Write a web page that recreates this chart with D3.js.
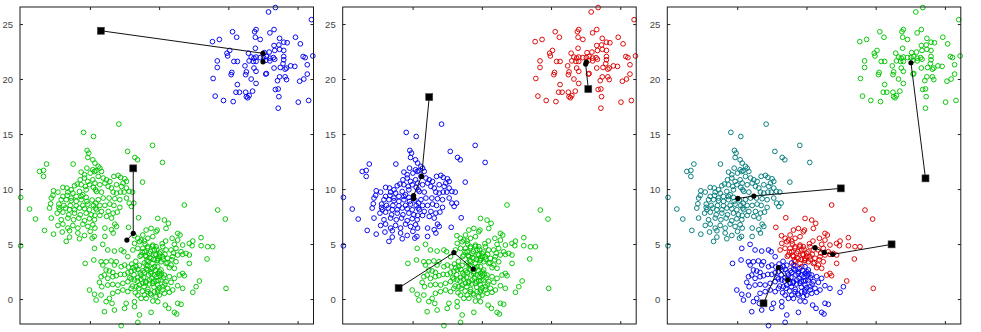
<!DOCTYPE html>
<html>
<head>
<meta charset="utf-8">
<script src="https://cdn.jsdelivr.net/npm/d3@7"></script>
<style>
  html, body { margin: 0; padding: 0; background: #fff; }
  svg { display: block; }
  .tick text { font-family: "Liberation Sans", Arial, sans-serif; font-size: 9.5px; fill: #444; }
</style>
</head>
<body>
<svg id="chart" width="981" height="332"></svg>
<script>
// Tick values shared by the three k-means panels
const xTicks = [0, 5, 10, 15];
const yTicks = [0, 5, 10, 15, 20, 25];

// Upper-right cloud
const clusterA = [
  [13.4,26.5],[12.9,26.1],[16.0,25.4],[10.3,24.3],[12.0,24.5],[11.9,24.3],[13.3,24.5],[13.0,24.2],
  [8.85,23.4],[9.35,23.6],[10.6,23.8],[11.95,23.8],[12.3,23.6],[13.7,23.7],[14.85,23.8],[14.25,23.3],
  [15.2,23.2],[13.3,23.05],[13.65,23.1],[14.0,23.35],[11.95,22.8],[10.1,22.6],[9.9,22.35],[9.95,22.1],
  [11.45,22.35],[12.6,22.4],[12.95,22.45],[13.35,22.6],[13.7,22.7],[14.0,22.6],[11.65,22.0],[11.85,21.9],
  [12.0,22.0],[12.3,21.95],[12.55,21.95],[12.75,22.05],[13.0,21.9],[13.25,21.95],[14.0,22.05],[14.0,21.75],
  [15.4,22.05],[15.55,21.95],[16.1,22.1],[9.2,21.65],[10.4,21.6],[10.65,21.6],[11.5,21.65],[11.8,21.6],
  [12.0,21.6],[12.7,21.7],[13.0,21.65],[13.35,21.8],[13.95,21.4],[15.7,21.3],[9.2,21.05],[11.2,21.2],
  [11.85,21.0],[12.0,20.7],[13.3,21.0],[13.75,21.05],[14.1,20.9],[14.2,21.0],[14.5,21.2],[14.8,21.15],
  [10.25,20.6],[10.2,20.4],[11.3,20.65],[11.25,20.4],[12.75,20.5],[12.7,20.45],[13.7,20.2],[14.1,20.2],
  [15.7,20.45],[8.9,20.05],[11.65,20.0],[13.55,19.85],[14.2,19.95],[15.15,19.8],[15.45,20.0],[10.65,19.5],
  [12.0,19.6],[13.4,19.05],[13.6,19.1],[10.55,18.8],[10.8,18.8],[11.25,18.8],[11.75,18.9],[11.3,18.4],
  [11.4,18.3],[11.5,18.5],[9.05,18.45],[9.65,18.05],[10.35,17.95],[13.65,18.4],[15.05,17.9],[15.8,18.05],
  [13.6,17.35]
];

// Left cloud
const clusterB = [
  [-0.46,15.15],[0.26,14.78],[-0.2,13.51],[-0.08,13.27],[-0.15,12.87],[0.21,12.66],[-3.13,12.27],[-1.21,12.27],
  [-3.35,11.69],[-3.64,11.6],[-3.35,11.15],[-0.22,11.9],[0.21,11.75],[-0.63,11.54],[-0.39,11.3],[0.02,11.45],
  [0.33,11.6],[-0.7,10.84],[-0.39,11.0],[-0.15,10.69],[0.21,10.84],[-0.92,10.45],[-1.11,10.3],[-0.63,10.39],
  [-0.32,10.24],[-0.03,10.39],[0.26,10.15],[-1.95,10.15],[-1.66,10.09],[-1.35,9.93],[-2.63,9.84],[-2.31,9.72],
  [-1.59,9.72],[-1.23,9.63],[-0.75,9.78],[-0.51,9.48],[-0.27,9.93],[0.4,9.93],[-2.67,9.42],[-2.79,9.18],
  [-1.95,9.33],[-1.64,9.42],[-1.35,9.18],[-0.99,9.33],[-0.63,9.33],[-0.27,9.24],[0.16,9.0],[-5.0,9.24],
  [-2.07,9.03],[-1.71,9.03],[-1.35,8.94],[-0.99,8.88],[-0.63,9.03],[-0.22,8.88],[-2.84,8.66],[-2.24,8.63],
  [-1.88,8.51],[-1.42,8.51],[-0.99,8.48],[-0.51,8.51],[-0.15,8.63],[0.26,8.51],[-4.36,8.18],[-2.92,8.27],
  [-2.24,8.33],[-2.19,8.12],[-1.76,8.27],[-1.47,8.12],[-1.11,8.12],[-0.75,8.27],[-0.39,8.21],[-0.03,8.12],
  [0.4,8.27],[-2.36,7.81],[-1.95,7.9],[-1.52,7.66],[-1.11,7.81],[-0.7,7.66],[-0.27,7.81],[0.09,7.66],
  [-3.93,7.27],[-2.79,7.36],[-2.07,7.21],[-1.59,7.36],[-1.18,7.21],[-0.8,7.36],[-0.39,7.12],[-0.03,7.3],
  [0.33,7.21],[-3.28,6.24],[-2.31,6.69],[-1.95,6.81],[-1.59,6.45],[-1.23,6.69],[-0.87,6.45],[-0.51,6.81],
  [-0.15,6.6],[0.21,6.75],[-2.63,5.9],[-2.0,6.09],[-1.47,6.21],[-0.87,6.0],[-0.39,5.78],[0.02,6.15],
  [-1.71,5.24],[-1.47,5.63],[-0.75,5.48],[0.16,5.54],[-5.0,4.84],
  [2.09,15.9],[2.72,13.42],[4.52,13.97],[3.25,12.87],[3.44,12.66],[5.24,12.42],[0.36,12.36],[0.6,12.06],
  [0.72,11.9],[0.43,11.66],[0.84,11.6],[0.6,11.15],[0.96,11.0],[1.2,10.84],[1.44,10.69],[1.73,11.15],
  [2.04,11.24],[2.21,11.06],[2.52,10.93],[2.64,10.69],[2.4,10.54],[3.8,10.63],[0.36,10.54],[0.72,10.39],
  [1.08,10.54],[1.32,10.24],[1.56,10.09],[1.92,10.39],[2.28,10.24],[2.64,10.09],[0.48,9.78],[0.84,9.72],
  [1.68,9.72],[1.92,9.63],[2.21,9.72],[2.47,9.72],[2.84,9.78],[3.08,9.72],[0.6,9.03],[0.96,9.18],
  [1.39,9.18],[1.8,9.12],[2.16,9.03],[2.64,9.18],[2.84,8.72],[3.17,8.72],[3.0,8.42],[0.43,8.72],
  [0.72,8.51],[1.08,8.51],[1.44,8.63],[1.73,8.51],[2.16,8.33],[0.48,8.12],[0.84,7.96],[1.32,7.96],
  [1.68,7.81],[1.97,7.9],[0.36,7.6],[0.72,7.6],[1.2,7.51],[1.56,7.36],[1.8,6.81],[1.92,6.6],
  [1.08,6.45],[1.56,6.3],[0.36,6.45],[0.31,5.69],[1.08,5.69],[1.68,6.0]
];

// Points between the left and lower clouds
const bridgeBC = [[3.51,7.39],[2.79,6.52]];

// Lower cloud, upper-right part
const clusterCUpper = [
  [4.06,6.27],[4.42,6.42],[4.78,6.12],[3.82,5.82],[3.46,5.52],[3.70,5.36],[3.22,5.06],[3.58,5.21],
  [3.94,5.27],[4.18,5.52],[4.54,5.67],[3.10,4.46],[3.46,4.61],[3.82,4.61],[4.18,4.76],[4.54,4.91],
  [3.94,4.30],[4.30,4.15],[4.66,4.46],[4.06,3.85],[4.42,3.70],[4.78,4.0],[4.90,3.55],[3.70,4.0],
  [4.18,3.39],[4.54,3.24],[4.66,2.94],[4.06,3.09],[3.2,5.76],
  [6.82,8.55],[9.23,8.09],[9.78,7.27],[4.90,7.33],[5.38,7.18],[5.67,6.88],[5.50,6.42],[4.86,6.27],
  [6.34,5.97],[6.51,5.82],[5.94,5.52],[6.34,5.36],[6.10,4.97],[6.70,4.91],[7.18,5.06],[7.43,5.27],
  [8.03,5.58],[7.38,4.85],[8.03,4.85],[8.51,4.76],[8.87,4.76],[4.78,4.76],[5.26,4.76],[5.50,4.46],
  [5.86,4.46],[6.22,4.61],[6.58,4.30],[6.94,4.15],[7.18,4.0],[5.02,4.15],[4.90,3.70],[5.26,3.85],
  [5.62,3.70],[5.98,3.85],[6.34,4.0],[6.70,4.06],[7.18,3.24],[8.46,3.64],[5.14,3.39],[5.50,3.24],
  [5.86,3.09],[6.22,3.39],[5.74,2.85],[6.10,2.79],[6.70,2.33],[6.82,2.12],[6.46,2.18],[7.91,1.64],
  [9.83,0.97],
  [4.02,3.97],[4.31,3.78],[4.62,3.58],[4.87,3.48],[4.38,4.32],[4.72,4.08],[5.03,3.88],[5.28,3.62],
  [4.18,4.63],[4.53,4.79],[4.83,4.52],[5.12,4.28],[5.42,4.07],[3.78,4.27],[3.62,3.88],[4.12,3.52],
  [5.58,3.31],[5.92,3.57],[6.03,4.18],[5.22,5.03],[5.47,5.27],[3.98,5.02]
];

// Lower cloud, lower-left part
const clusterCLower = [
  [0.33,4.61],[0.93,4.97],[1.29,4.46],[1.77,4.36],[2.26,4.46],[2.45,4.30],[2.74,3.85],[-0.34,3.24],
  [0.28,3.55],[0.81,3.39],[0.93,3.09],[1.17,3.39],[1.53,3.46],[1.90,3.39],[1.77,3.09],[1.17,2.64],
  [1.41,2.55],[1.65,2.42],[2.26,2.94],[2.50,3.09],[0.81,2.03],[1.05,2.18],[1.29,1.88],[1.65,2.03],
  [1.90,2.12],[2.21,2.24],[2.50,2.24],[2.74,2.39],[2.98,2.49],[3.22,2.64],[3.34,2.94],[0.69,1.52],
  [0.86,1.12],[1.29,1.27],[1.65,1.33],[2.02,1.27],[2.38,1.43],[2.74,1.58],[2.98,1.82],[3.22,1.73],
  [3.46,1.94],[3.70,2.18],[3.94,2.42],[4.18,2.64],[4.42,2.49],[4.66,2.18],[4.90,2.33],[-0.03,0.82],
  [0.33,0.43],[0.45,-0.09],[0.81,0.36],[1.17,-0.24],[1.41,0.06],[1.65,0.52],[2.02,0.67],[2.38,0.82],
  [2.74,0.67],[2.98,0.97],[3.34,1.12],[3.58,1.27],[3.82,1.43],[4.06,1.58],[4.30,1.73],[4.54,1.43],
  [4.78,1.64],[1.05,-1.15],[1.77,-1.0],[2.50,-0.85],[3.22,-0.24],[3.46,0.36],[3.70,0.06],[3.94,0.36],
  [4.18,0.67],[4.42,0.36],[4.66,0.67],[4.90,0.82],[2.62,-0.39],[3.22,-0.70],[3.58,-1.45],[4.42,-1.21],
  [2.26,-2.42],[3.46,-2.12],[4.06,0.06],[4.54,-0.18],[4.78,0.21],[1.6,-0.4],
  [4.90,2.94],[5.14,2.64],[5.02,2.18],[5.38,2.18],[5.74,2.03],[6.10,1.88],[5.14,1.73],[5.50,1.58],
  [5.86,1.52],[4.90,1.27],[5.26,1.12],[5.62,0.97],[5.98,0.82],[6.34,1.21],[6.70,0.97],[7.67,1.12],
  [7.43,0.61],[5.45,-0.55],[5.69,-0.85],[6.34,-0.39],[6.58,-0.48],[6.10,-1.21],[6.27,-1.36],[5.02,0.36],
  [5.38,0.52],[5.74,0.61],[4.90,-0.24],
  [3.02,3.18],[3.31,3.43],[3.58,3.07],[3.93,3.28],[4.17,3.02],[4.52,2.77],[3.12,2.86],[3.47,2.68],
  [3.83,2.57],[4.08,2.74],[4.41,2.31],[4.73,2.58],[5.04,2.47],[3.18,2.21],[3.63,2.38],[3.88,1.97],
  [4.24,2.19],[4.47,1.88],[4.82,2.03],[5.17,2.29],[3.42,1.63],[3.69,1.81],[4.03,1.46],[4.28,1.37],
  [4.61,1.62],[4.94,1.69],[5.31,1.93],[3.07,1.18],[3.52,0.98],[3.91,1.13],[4.19,0.88],[4.63,1.08],
  [5.02,1.04],[5.41,1.36],[3.28,0.57],[3.79,0.72],[4.37,0.48],[4.88,0.62],[5.27,0.83],[2.88,1.93],
  [2.79,2.91]
];

// Centroid trajectories: start (square), iterations, final position
const centroidPathsK2 = [
  [[0.79,24.39],[12.5,22.34],[12.5,21.57]],
  [[3.13,11.88],[3.13,5.97],[2.67,5.36]]
];
const centroidPathsK3 = [
  [[12.69,19.09],[12.5,21.36],[12.55,21.55]],
  [[1.2,18.36],[0.65,11.15],[0.07,9.4],[0.07,9.15]],
  [[-1.01,1.0],[2.98,4.21],[4.38,2.73]]
];
const centroidPathsK4 = [
  [[13.6,10.97],[12.55,21.48]],
  [[7.48,10.06],[1.2,9.36],[0.05,9.15]],
  [[11.15,4.97],[6.9,4.06],[6.28,4.24],[5.62,4.67]],
  [[1.9,-0.39],[2.98,2.85],[3.65,1.73]]
];

// Colours
const BLUE = "#0000f0", GREEN = "#00c400", RED = "#dc0000", TEAL = "#007a7a";

const panels = [
  { left: 20,    groups: [[clusterA, BLUE], [clusterB, GREEN], [bridgeBC, GREEN], [clusterCUpper, GREEN], [clusterCLower, GREEN]], paths: centroidPathsK2 },
  { left: 342.7, groups: [[clusterA, RED], [clusterB, BLUE], [bridgeBC, BLUE], [clusterCUpper, GREEN], [clusterCLower, GREEN]], paths: centroidPathsK3 },
  { left: 667.3, groups: [[clusterA, GREEN], [clusterB, TEAL], [bridgeBC, RED], [clusterCUpper, RED], [clusterCLower, BLUE]], paths: centroidPathsK4 }
];

const W = 293.5, H = 317, TOP = 7;
const x = d3.scaleLinear().domain([-5.05, 16.15]).range([0, W]);
const y = d3.scaleLinear().domain([-2.27, 26.55]).range([H, 0]);

const svg = d3.select("#chart");

panels.forEach(p => {
  const g = svg.append("g").attr("transform", `translate(${p.left},${TOP})`);

  // scatter
  p.groups.forEach(([pts, col]) => {
    g.append("g").selectAll("circle").data(pts).join("circle")
      .attr("cx", d => x(d[0])).attr("cy", d => y(d[1]))
      .attr("r", 2.35)
      .attr("fill", "none").attr("stroke", col).attr("stroke-width", 0.95);
  });

  // frame and inward ticks
  const styleAxis = sel => {
    sel.select(".domain").remove();
    sel.selectAll(".tick line").attr("stroke", "#222").attr("stroke-width", 1);
  };
  g.append("g").call(d3.axisLeft(y).tickValues(yTicks).tickSize(-3).tickPadding(7)).call(styleAxis)
    .selectAll("text").attr("fill", "#444");
  g.append("g").attr("transform", `translate(${W},0)`)
    .call(d3.axisRight(y).tickValues(yTicks).tickSize(-3).tickFormat("")).call(styleAxis);
  g.append("g").attr("transform", `translate(0,${H})`)
    .call(d3.axisBottom(x).tickValues(xTicks).tickSize(-3).tickFormat("")).call(styleAxis);
  g.append("g")
    .call(d3.axisTop(x).tickValues(xTicks).tickSize(-3).tickFormat("")).call(styleAxis);
  g.append("rect").attr("x", 0).attr("y", 0).attr("width", W).attr("height", H)
    .attr("fill", "none").attr("stroke", "#1a1a1a").attr("stroke-width", 1);

  // centroid trajectories
  const line = d3.line().x(d => x(d[0])).y(d => y(d[1]));
  p.paths.forEach(path => {
    g.append("path").attr("d", line(path))
      .attr("fill", "none").attr("stroke", "#111").attr("stroke-width", 1);
    g.selectAll(null).data(path.slice(1)).join("circle")
      .attr("cx", d => x(d[0])).attr("cy", d => y(d[1]))
      .attr("r", 2.6).attr("fill", "#000");
    const s = path[0];
    g.append("rect")
      .attr("x", x(s[0]) - 3.5).attr("y", y(s[1]) - 3.5)
      .attr("width", 7).attr("height", 7)
      .attr("fill", "#000").attr("stroke", "#444").attr("stroke-width", 0.6);
  });
});
</script>
</body>
</html>
